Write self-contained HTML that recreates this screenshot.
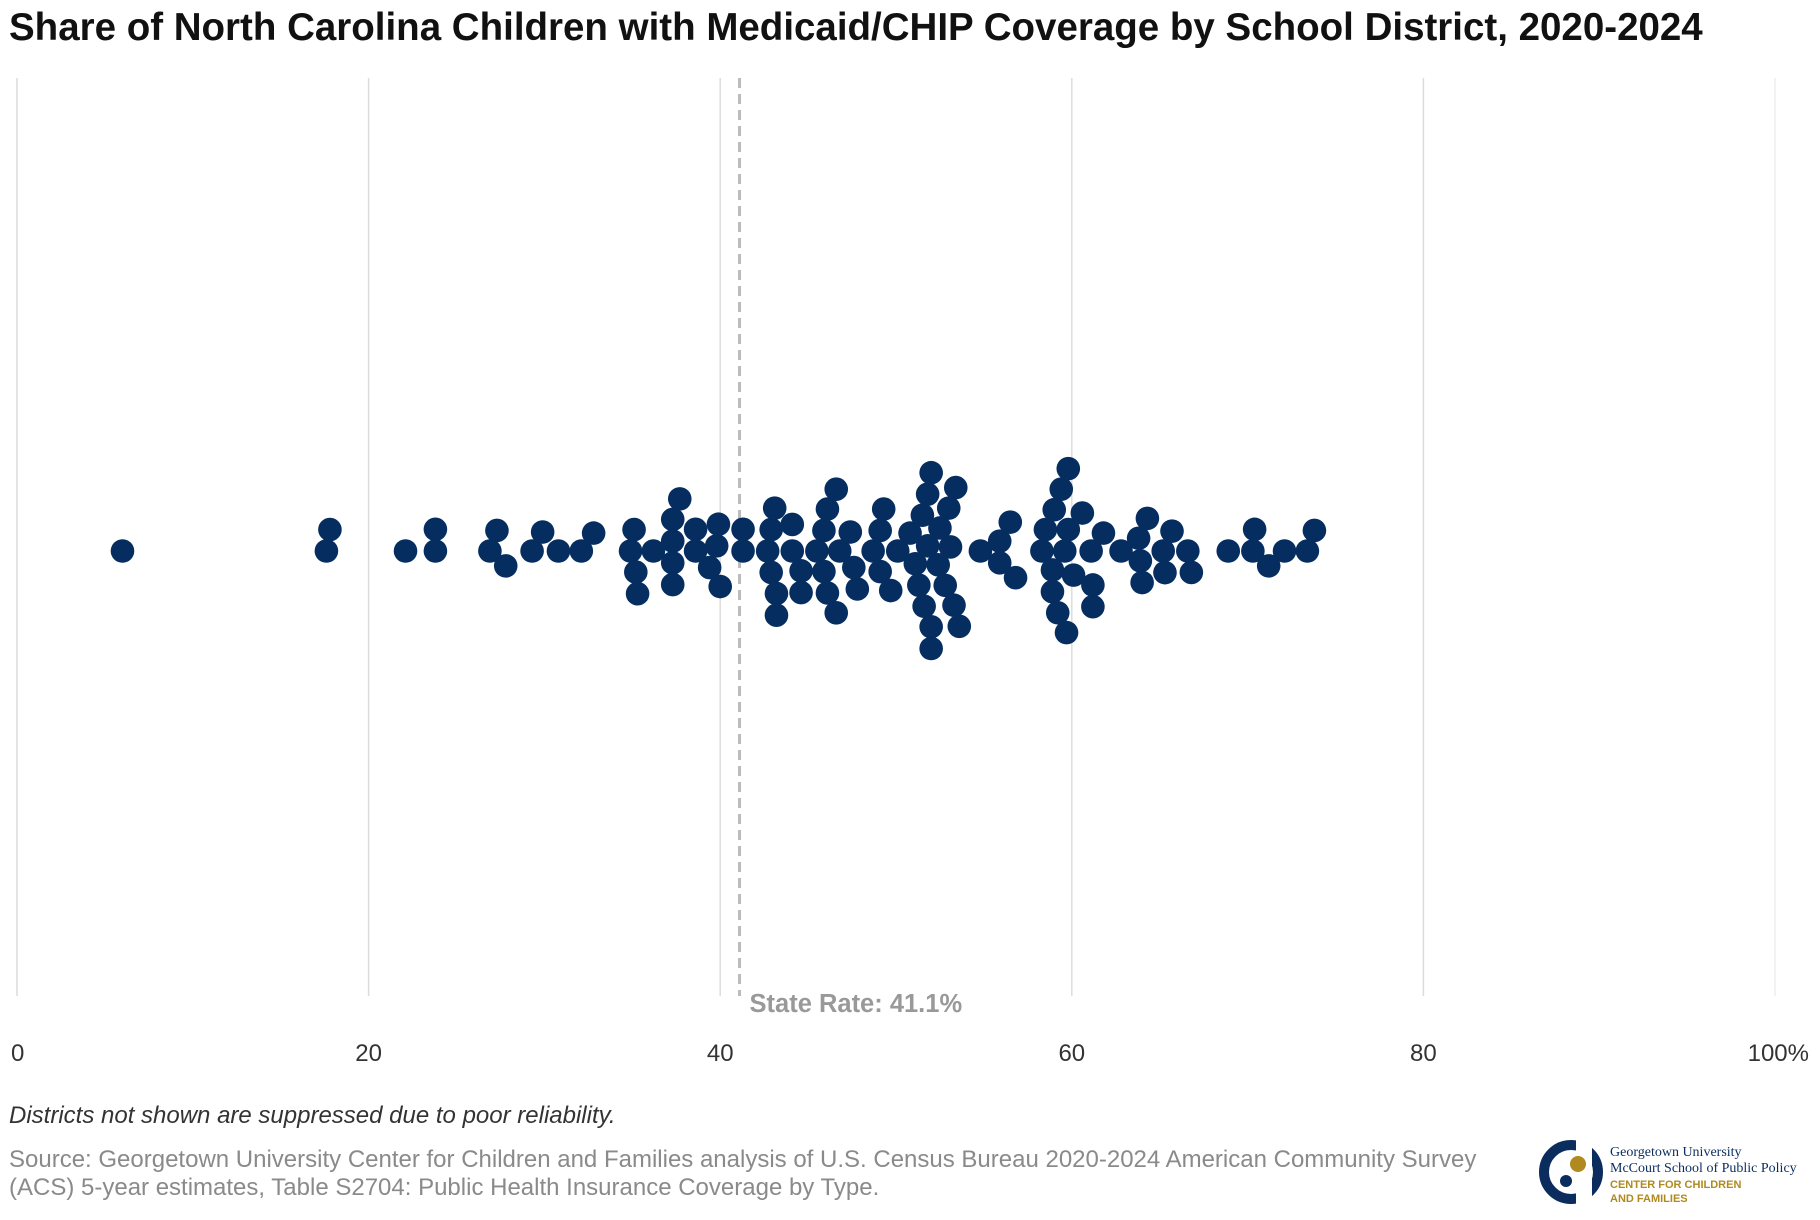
<!DOCTYPE html>
<html><head><meta charset="utf-8">
<style>
body{margin:0;background:#fff;font-family:"Liberation Sans",sans-serif;}
#wrap{position:relative;width:1820px;height:1220px;overflow:hidden;}
.t{position:absolute;white-space:nowrap;}
</style></head><body>
<div id="wrap">
<div class="t" style="left:9px;top:6px;font-size:38.5px;font-weight:bold;color:#111;">Share of North Carolina Children with Medicaid/CHIP Coverage by School District, 2020-2024</div>
<svg id="chart" width="1820" height="1100" style="position:absolute;left:0;top:0"></svg>
<div class="t" style="left:9px;top:1102px;font-size:24px;font-style:italic;color:#333;">Districts not shown are suppressed due to poor reliability.</div>
<div class="t" style="left:9px;top:1146px;font-size:24px;color:#8a8a8a;line-height:28px;">Source: Georgetown University Center for Children and Families analysis of U.S. Census Bureau 2020-2024 American Community Survey<br>(ACS) 5-year estimates, Table S2704: Public Health Insurance Coverage by Type.</div>
<svg width="270" height="70" style="position:absolute;left:1538px;top:1139px">
<circle cx="33" cy="33" r="27" fill="none" stroke="#0b2d5e" stroke-width="10"/>
<rect x="38" y="0" width="16" height="66" fill="#fff"/>
<circle cx="40" cy="25" r="8" fill="#b08a1f"/>
<circle cx="28" cy="42" r="6" fill="#0b2d5e"/>
<text x="72" y="17" font-family="Liberation Serif,serif" font-size="14" fill="#0b2d5e">Georgetown University</text>
<text x="72" y="33" font-family="Liberation Serif,serif" font-size="14" fill="#0b2d5e">McCourt School of Public Policy</text>
<text x="72" y="49" font-size="11" font-weight="bold" fill="#b08a1f">CENTER FOR CHILDREN</text>
<text x="72" y="63" font-size="11" font-weight="bold" fill="#b08a1f">AND FAMILIES</text>
</svg>
</div>
<script>
const values=[6.0,17.6,17.8,22.1,23.8,23.8,26.9,27.3,27.8,29.3,29.9,30.8,32.1,32.8,34.9,35.1,35.2,35.3,36.2,37.3,37.3,37.3,37.3,37.7,38.6,38.6,39.4,39.8,39.9,40.0,41.3,41.3,42.7,42.9,42.9,43.1,43.2,43.2,44.1,44.1,44.6,44.6,45.5,45.9,45.9,46.1,46.1,46.6,46.6,46.8,47.4,47.6,47.8,48.7,49.1,49.1,49.3,49.7,50.1,50.8,51.1,51.3,51.5,51.6,51.8,51.8,52.0,52.0,52.0,52.4,52.5,52.8,53.0,53.1,53.3,53.4,53.6,54.8,55.9,55.9,56.5,56.8,58.3,58.5,58.9,58.9,59.0,59.2,59.4,59.6,59.7,59.8,59.8,60.1,60.6,61.1,61.2,61.2,61.8,62.8,63.8,63.9,64.0,64.3,65.2,65.3,65.7,66.6,66.8,68.9,70.3,70.4,71.2,72.1,73.4,73.8];
const tickValues=[0,20,40,60,80,100];
const tickLabels=["0","20","40","60","80","100%"];
const stateRate=41.1;
const NS="http://www.w3.org/2000/svg";
const svg=document.getElementById('chart');
const x=v=>17+v*17.58;
const yTop=78,yBot=996,cy=551,R=11.8;
function mk(t,a){const e=document.createElementNS(NS,t);for(const k in a)e.setAttribute(k,a[k]);svg.appendChild(e);return e;}
tickValues.forEach((v,i)=>{
  const g=mk('line',{x1:x(v),x2:x(v),y1:yTop,y2:yBot,stroke:i===5?'#eee':'#dcdcdc','stroke-width':1.5});
  
  
  const t=mk('text',{x:x(v),y:1061,'text-anchor':i===0?'start':(i===5?'end':'middle'),'font-size':24,fill:'#333','font-family':'Liberation Sans,sans-serif'});
  if(i===0)t.setAttribute('x',x(v)-6);
  if(i===5)t.setAttribute('x',x(v)+34);
  t.textContent=tickLabels[i];
  
  
});
const sl=mk('line',{x1:x(stateRate),x2:x(stateRate),y1:yTop,y2:yBot,stroke:'#bbb','stroke-width':3,'stroke-dasharray':'10,6'});


const st=mk('text',{x:x(stateRate)+10,y:1012,'font-size':25.5,'font-weight':'bold',fill:'#999','font-family':'Liberation Sans,sans-serif'});
st.textContent='State Rate: '+stateRate.toFixed(1)+'%';


// greedy beeswarm
const D=2*R*0.92;const placed=[];
values.slice().sort((a,b)=>a-b).forEach(v=>{
  const px=x(v);const iv=[];
  placed.forEach(p=>{const dx=Math.abs(p.x-px);if(dx<D){const h=Math.sqrt(D*D-dx*dx);iv.push([p.y-h,p.y+h]);}});
  const cands=[0];iv.forEach(a=>{cands.push(a[0],a[1]);});
  cands.sort((a,b)=>Math.abs(a)-Math.abs(b)||a-b);
  let y=0;for(const c of cands){if(iv.every(a=>!(c>a[0]+1e-6&&c<a[1]-1e-6))){y=c;break;}}
  placed.push({x:px,y:y});
  const d=mk('circle',{cx:px,cy:cy+y,r:R,fill:'#052d5f'});
  
  
});
</script>
</body></html>
